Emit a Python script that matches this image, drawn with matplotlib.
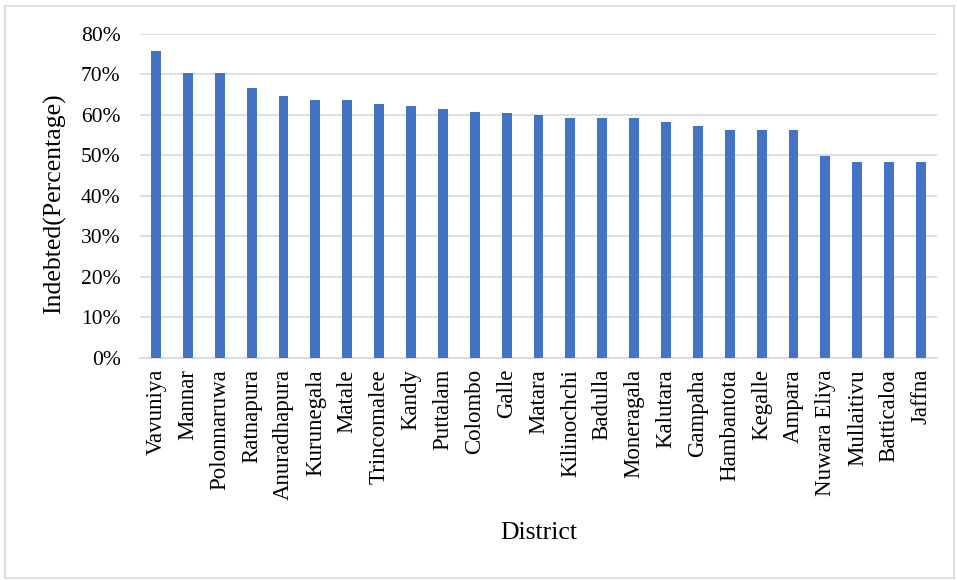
import matplotlib
matplotlib.use("Agg")
import matplotlib.pyplot as plt
from matplotlib.patches import Rectangle
from matplotlib.ticker import PercentFormatter

# share of indebted households by district
districts = ["Vavuniya", "Mannar", "Polonnaruwa", "Ratnapura", "Anuradhapura",
             "Kurunegala", "Matale", "Trincomalee", "Kandy", "Puttalam",
             "Colombo", "Galle", "Matara", "Kilinochchi", "Badulla",
             "Moneragala", "Kalutara", "Gampaha", "Hambantota", "Kegalle",
             "Ampara", "Nuwara Eliya", "Mullaitivu", "Batticaloa", "Jaffna"]
indebted = [75.9, 70.3, 70.3, 66.6, 64.6, 63.6, 63.6, 62.6, 62.1, 61.6,
            60.7, 60.6, 60.1, 59.2, 59.2, 59.2, 58.2, 57.2, 56.2, 56.2,
            56.2, 49.8, 48.3, 48.3, 48.3]
y_ticks = [0, 10, 20, 30, 40, 50, 60, 70, 80]

plt.rcParams["font.family"] = ["Liberation Serif", "DejaVu Serif"]

fig = plt.figure(figsize=(9.57, 5.80), dpi=100)
ax = fig.add_axes([0.1463, 0.3828, 0.8328, 0.5586])

x = list(range(len(districts)))
ax.bar(x, indebted, width=0.31, color="#4472C4", zorder=3)

ax.set_xlim(-0.5, len(districts) - 0.5)
ax.set_ylim(0, 80)
ax.set_yticks(y_ticks)
ax.yaxis.set_major_formatter(PercentFormatter(decimals=0))
ax.set_xticks(x)
ax.set_xticklabels(districts, rotation=90, fontsize=16.5)
ax.tick_params(axis="y", length=0, pad=14, labelsize=15.5)
ax.tick_params(axis="x", length=0, pad=8)

ax.grid(axis="y", color="#d9d9d9", linewidth=1.2, zorder=0)
for s in ["top", "right", "left"]:
    ax.spines[s].set_visible(False)
ax.spines["bottom"].set_color("#d9d9d9")
ax.spines["bottom"].set_linewidth(1.2)

ax.set_xlabel("District", fontsize=18.5)
ax.xaxis.set_label_coords(0.5, -0.506)
ax.set_ylabel("Indebted(Percentage)", fontsize=18.5)
ax.yaxis.set_label_coords(-0.093, 0.475)

# light frame around the whole chart
fig.patches.append(Rectangle((0.005, 0.003), 0.992, 0.987, transform=fig.transFigure,
                             fill=False, edgecolor="#d9d9d9", linewidth=1.2))

fig.savefig("out.png", dpi=100)
